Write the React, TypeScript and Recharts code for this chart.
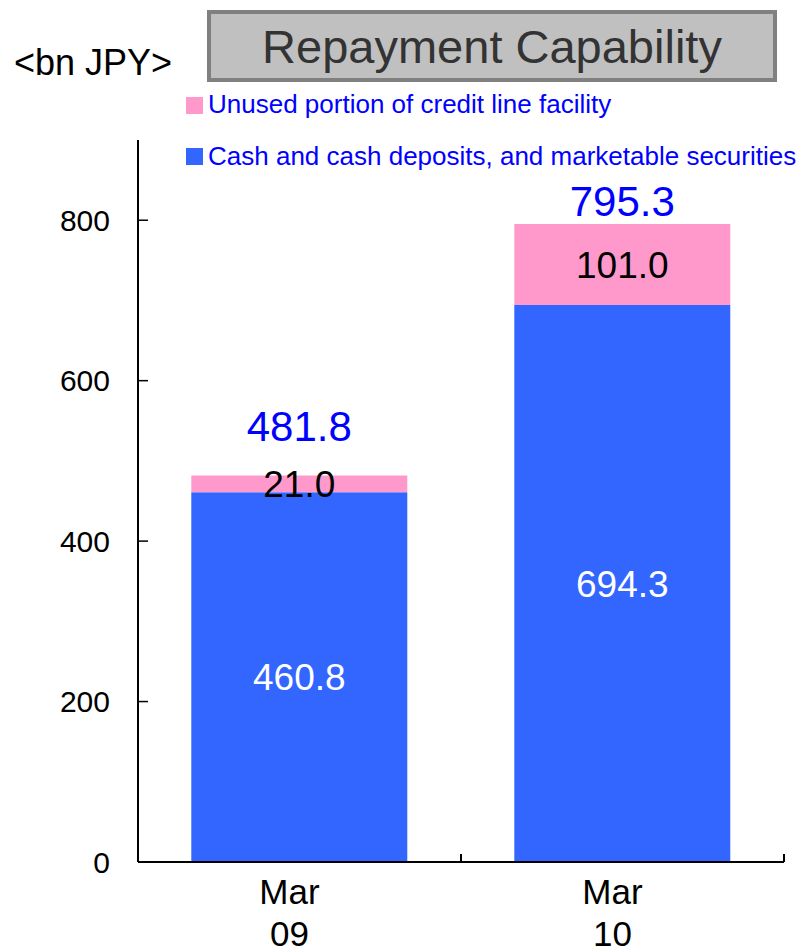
import { BarChart, Bar, XAxis, YAxis, LabelList } from "recharts";

const PERIODS = ["Mar 09", "Mar 10"];
const CASH = [460.8, 694.3];
const UNUSED_CREDIT = [21.0, 101.0];
const Y_TICKS = [0, 200, 400, 600, 800];

const BLUE = "#3366FF";
const PINK = "#FF99CC";
const FONT = "'Liberation Sans', Arial, sans-serif";

const rows = PERIODS.map((period, i) => ({
  period,
  cash: CASH[i],
  unused: UNUSED_CREDIT[i],
  total: CASH[i] + UNUSED_CREDIT[i],
}));

// category label split on two lines, plus a small upward tick at the right edge of each band
function PeriodTick(props: any) {
  const { x, y, payload } = props;
  const [month, year] = String(payload.value).split(" ");
  const half = payload.offset ?? 0;
  return (
    <g>
      <line x1={x + half} x2={x + half} y1={y} y2={y - 8} stroke="#000" strokeWidth={2} />
      <text x={x - 10} y={y + 42} textAnchor="middle" fontSize={35} fill="#000" fontFamily={FONT}>
        {month}
      </text>
      <text x={x - 10} y={y + 84} textAnchor="middle" fontSize={35} fill="#000" fontFamily={FONT}>
        {year}
      </text>
    </g>
  );
}

// stack total above the top segment, lifted clear of the segment's own label
function TotalLabel(props: any) {
  const { x, y, width, height, index } = props;
  const baseline = Math.min(y - 8, y + height / 2 - 43);
  return (
    <text
      x={x + width / 2}
      y={baseline}
      textAnchor="middle"
      fontSize={42}
      fill="#0000FF"
      fontFamily={FONT}
    >
      {rows[index].total.toFixed(1)}
    </text>
  );
}

export default function App() {
  return (
    <div
      style={{
        position: "absolute",
        left: 0,
        top: 0,
        width: 803,
        height: 952,
        background: "#fff",
        fontFamily: FONT,
      }}
    >
      <BarChart
        width={803}
        height={952}
        data={rows}
        margin={{ top: 140, right: 19, left: 78, bottom: 0 }}
        barCategoryGap="16.5%"
      >
        <XAxis
          dataKey="period"
          height={90}
          axisLine={{ stroke: "#000", strokeWidth: 2 }}
          tickLine={false}
          tickSize={0}
          tickMargin={0}
          tick={<PeriodTick />}
          interval={0}
        />
        <YAxis
          width={60}
          domain={[0, 900]}
          ticks={Y_TICKS}
          axisLine={{ stroke: "#000", strokeWidth: 2 }}
          tickLine={{ stroke: "#000", strokeWidth: 1.5 }}
          tickSize={-10}
          tickMargin={38}
          tick={{ fill: "#000", fontSize: 30, fontFamily: FONT }}
          allowDataOverflow
        />
        <Bar dataKey="cash" stackId="a" fill={BLUE} isAnimationActive={false}>
          <LabelList
            dataKey="cash"
            position="center"
            fill="#fff"
            fontSize={37}
            fontFamily={FONT}
            formatter={(v: any) => Number(v).toFixed(1)}
          />
        </Bar>
        <Bar dataKey="unused" stackId="a" fill={PINK} isAnimationActive={false}>
          <LabelList
            dataKey="unused"
            position="center"
            fill="#000"
            fontSize={37}
            fontFamily={FONT}
            formatter={(v: any) => Number(v).toFixed(1)}
          />
          <LabelList dataKey="total" content={<TotalLabel />} />
        </Bar>
      </BarChart>

      <svg
        width={803}
        height={180}
        style={{ position: "absolute", left: 0, top: 0, pointerEvents: "none" }}
      >
        <text x={14} y={75} fontSize={36} fill="#000" fontFamily={FONT}>
          {"<bn JPY>"}
        </text>
        <rect x={209} y={12} width={566} height={68} fill="#C0C0C0" stroke="#808080" strokeWidth={4} />
        <text x={492} y={63} textAnchor="middle" fontSize={47} fill="#333333" fontFamily={FONT}>
          Repayment Capability
        </text>

        <rect x={186} y={97} width={17} height={17} fill={PINK} />
        <text x={208} y={113} fontSize={26} fill="#0000FF" fontFamily={FONT}>
          Unused portion of credit line facility
        </text>
        <rect x={186} y={148} width={17} height={17} fill={BLUE} />
        <text x={208} y={165} fontSize={26} fill="#0000FF" fontFamily={FONT}>
          Cash and cash deposits, and marketable securities
        </text>
      </svg>
    </div>
  );
}
